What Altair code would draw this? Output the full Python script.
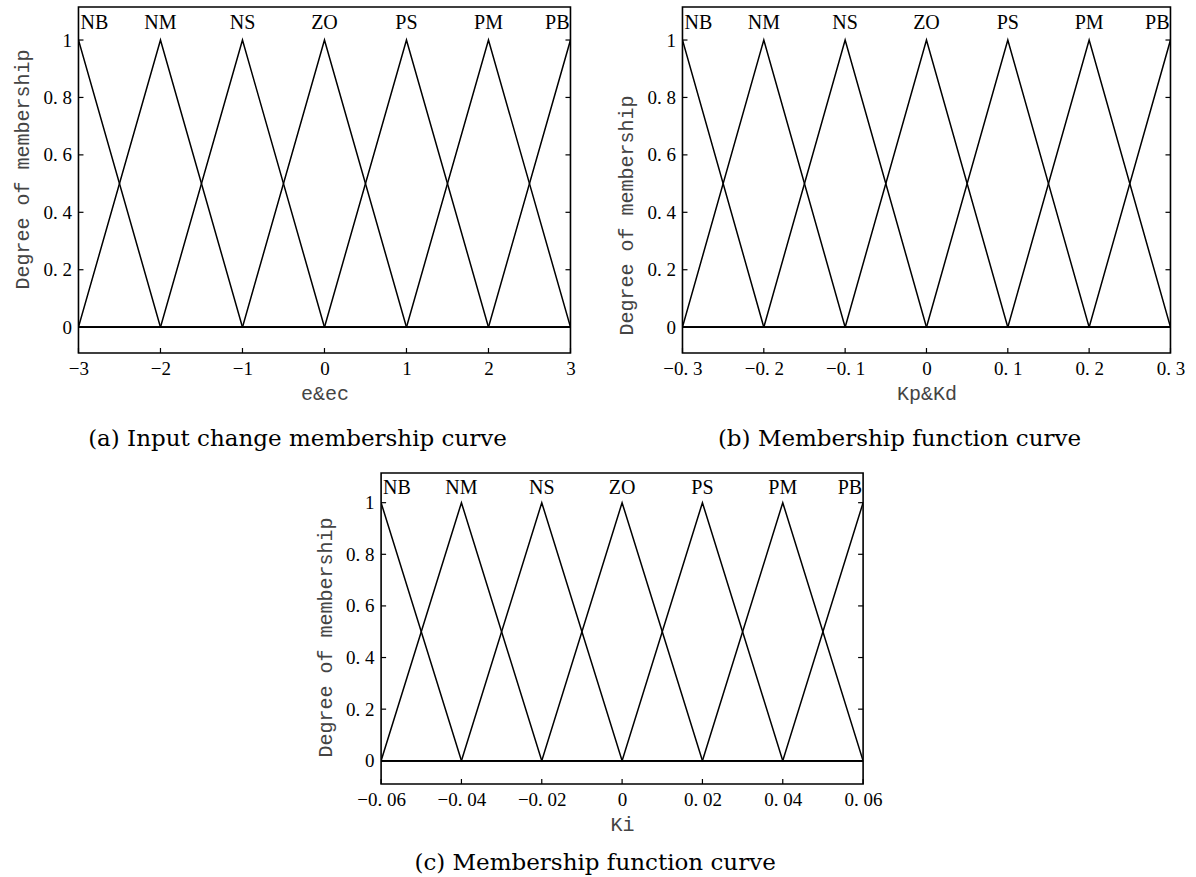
import altair as alt
import pandas as pd

labels = ["NB", "NM", "NS", "ZO", "PS", "PM", "PB"]
e_points = [-3, -2, -1, 0, 1, 2, 3]
kpd_points = [-0.3, -0.2, -0.1, 0, 0.1, 0.2, 0.3]
ki_points = [-0.06, -0.04, -0.02, 0, 0.02, 0.04, 0.06]
membership = [
    [1, 0, 0, 0, 0, 0, 0],
    [0, 1, 0, 0, 0, 0, 0],
    [0, 0, 1, 0, 0, 0, 0],
    [0, 0, 0, 1, 0, 0, 0],
    [0, 0, 0, 0, 1, 0, 0],
    [0, 0, 0, 0, 0, 1, 0],
    [0, 0, 0, 0, 0, 0, 1],
]
y_ticks = [0, 0.2, 0.4, 0.6, 0.8, 1]
label_height = 1.058
y_domain = [-0.09, 1.115]

SERIF = "Liberation Serif"
MONO = "Liberation Mono"


def panel(points, xtitle, caption, width, height, ytitle_y, cap_offset):
    rows = []
    for lab, mus in zip(labels, membership):
        for k, (xv, mv) in enumerate(zip(points, mus)):
            rows.append({"x": xv, "mu": mv, "series": lab, "k": k})
    df = pd.DataFrame(rows)
    lab_df = pd.DataFrame({"x": points, "label": labels, "y": [label_height] * len(labels)})
    xt = pd.DataFrame({"x": points})
    yt = pd.DataFrame({"y": y_ticks})

    fmt = "replace(format(datum.value, '%s'), '.', '. ')"
    xdec = {3: ".0f", 0.3: ".1f", 0.06: ".2f"}[max(points)]
    xscale = alt.Scale(domain=[min(points), max(points)], nice=False, zero=False)
    yscale = alt.Scale(domain=y_domain, nice=False, zero=False)

    lines = alt.Chart(df).mark_line(color="black", strokeWidth=1.5, clip=True).encode(
        x=alt.X("x:Q", scale=xscale, title=xtitle,
                axis=alt.Axis(values=points, ticks=False, domain=False, grid=False,
                              labelFlush=False, labelOverlap=False,
                              labelExpr="datum.value == 0 ? '0' : " + fmt % xdec,
                              labelPadding=6, titlePadding=5)),
        y=alt.Y("mu:Q", scale=yscale, title="Degree of membership",
                axis=alt.Axis(values=y_ticks, ticks=False, domain=False, grid=False,
                              labelFlush=False, labelOverlap=False,
                              labelExpr="datum.value == 0 ? '0' : datum.value == 1 ? '1' : " + fmt % ".1f",
                              labelPadding=7, titlePadding=10, titleY=ytitle_y)),
        detail="series:N",
        order="k:Q",
    )

    def text_layer(sub, align, dx):
        return alt.Chart(sub).mark_text(
            align=align, baseline="middle", font=SERIF, fontSize=20, color="black", dx=dx
        ).encode(x=alt.X("x:Q", scale=xscale), y=alt.Y("y:Q", scale=yscale), text="label:N")

    t_left = text_layer(lab_df.iloc[:1], "left", 2)
    t_mid = text_layer(lab_df.iloc[1:-1], "center", 0)
    t_right = text_layer(lab_df.iloc[-1:], "right", -1)

    bx = alt.Chart(xt).mark_rule(color="black", strokeWidth=1.2).encode(
        x=alt.X("x:Q", scale=xscale), y=alt.value(height), y2=alt.value(height - 5))
    ly = alt.Chart(yt).mark_rule(color="black", strokeWidth=1.2).encode(
        y=alt.Y("y:Q", scale=yscale), x=alt.value(0), x2=alt.value(5))
    ry = alt.Chart(yt).mark_rule(color="black", strokeWidth=1.2).encode(
        y=alt.Y("y:Q", scale=yscale), x=alt.value(width), x2=alt.value(width - 5))

    return alt.layer(lines, bx, ly, ry, t_left, t_mid, t_right).properties(
        width=width, height=height,
        title=alt.TitleParams(caption, orient="bottom", anchor="middle", font="DejaVu Serif",
                              fontSize=23, fontWeight="normal", color="black",
                              offset=cap_offset, dx=-27),
    )


a = panel(e_points, "e&ec", "(a) Input change membership curve", 492, 346, 162, 25)
b = panel(kpd_points, "Kp&Kd", "(b) Membership function curve", 488, 346, 208, 25)
c = panel(ki_points, "Ki", "(c) Membership function curve", 482, 311, 164, 18)

top = alt.hconcat(a, b, spacing=39)
chart = alt.vconcat(top, c, spacing=20, center=True).properties(
    padding={"left": 12, "top": 6, "right": 5, "bottom": 5}
).configure_view(stroke="black", strokeWidth=1.6).configure_axis(
    labelFont=SERIF, labelFontSize=19, labelColor="black",
    titleFont=MONO, titleFontSize=20, titleColor="#444", titleFontWeight="normal",
)

chart.save("out.html", embed_options={"renderer": "svg", "actions": False})
